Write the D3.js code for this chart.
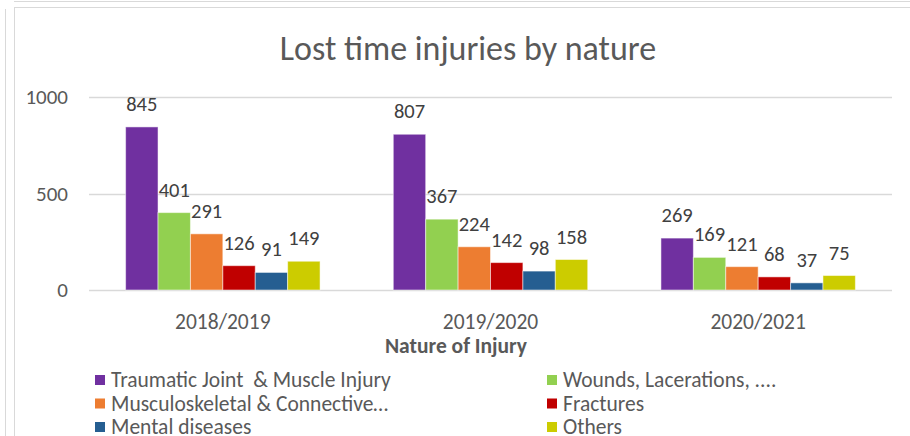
<!DOCTYPE html>
<html lang="en">
<head>
    <meta charset="UTF-8">
    <title>Lost time injuries by nature</title>
    <script src="https://d3js.org/d3.v7.min.js"></script>
    <style>
        body { margin: 0; background: #fff; }
        text { font-family: Calibri, Carlito, "Open Sans", sans-serif; white-space: pre; }
    </style>
</head>
<body>
    <svg width="910" height="436"></svg>
    <script>
        const years = ["2018/2019", "2019/2020", "2020/2021"];
        const seriesNames = [
            "Traumatic Joint  & Muscle Injury",
            "Wounds, Lacerations, ....",
            "Musculoskeletal & Connective…",
            "Fractures",
            "Mental diseases",
            "Others"
        ];
        const seriesColors = ["#7030A0", "#92D050", "#ED7D31", "#C00000", "#255E91", "#CCCC00"];
        const values = [
            [845, 401, 291, 126, 91, 149],
            [807, 367, 224, 142, 98, 158],
            [269, 169, 121, 68, 37, 75]
        ];
        const yTicks = [0, 500, 1000];

        const svg = d3.select("svg");

        // frame lines like the pasted chart box
        svg.append("line").attr("x1", 5.5).attr("x2", 5.5).attr("y1", 9).attr("y2", 436).attr("stroke", "#d9d9d9");
        svg.append("line").attr("x1", 14.5).attr("x2", 14.5).attr("y1", 7).attr("y2", 436).attr("stroke", "#d9d9d9");
        svg.append("line").attr("x1", 14).attr("x2", 910).attr("y1", 1.5).attr("y2", 1.5).attr("stroke", "#d9d9d9");
        svg.append("line").attr("x1", 14).attr("x2", 910).attr("y1", 7.5).attr("y2", 7.5).attr("stroke", "#d9d9d9");

        const x0 = d3.scaleBand().domain(years).range([89, 892]);
        const x1 = d3.scaleBand().domain(d3.range(seriesNames.length))
            .range([0, x0.bandwidth()]).paddingOuter(1.13);
        const y = d3.scaleLinear().domain([0, 1000]).range([290, 97]);

        // title
        svg.append("text")
            .attr("x", 468).attr("y", 60)
            .attr("text-anchor", "middle")
            .style("font-size", "34px")
            .attr("fill", "#595959")
            .text("Lost time injuries by nature");

        // gridlines + y labels
        svg.selectAll("line.grid")
            .data(yTicks)
            .enter().append("line")
            .attr("class", "grid")
            .attr("x1", 89).attr("x2", 892)
            .attr("y1", d => Math.round(y(d)) + 0.5)
            .attr("y2", d => Math.round(y(d)) + 0.5)
            .attr("stroke", "#d9d9d9")
            .attr("stroke-width", 1.5);

        svg.selectAll("text.ytick")
            .data(yTicks)
            .enter().append("text")
            .attr("class", "ytick")
            .attr("x", 68)
            .attr("y", d => y(d) + 7)
            .attr("text-anchor", "end")
            .style("font-size", "21px")
            .attr("fill", "#595959")
            .text(d => d);

        // bars
        const groups = svg.selectAll("g.year")
            .data(years)
            .enter().append("g")
            .attr("class", "year")
            .attr("transform", d => `translate(${x0(d)},0)`);

        groups.selectAll("rect")
            .data((d, i) => values[i].map((v, j) => ({ v, j })))
            .enter().append("rect")
            .attr("x", d => x1(d.j))
            .attr("y", d => y(d.v))
            .attr("width", x1.bandwidth())
            .attr("height", d => y(0) - y(d.v))
            .attr("fill", d => seriesColors[d.j])
            .attr("stroke", "#ffffff")
            .attr("stroke-opacity", 0.5)
            .attr("stroke-width", 1);

        groups.selectAll("text.val")
            .data((d, i) => values[i].map((v, j) => ({ v, j })))
            .enter().append("text")
            .attr("class", "val")
            .attr("x", d => x1(d.j) + x1.bandwidth() / 2)
            .attr("y", d => y(d.v) - 16)
            .attr("text-anchor", "middle")
            .style("font-size", "20.5px")
            .attr("fill", "#404040")
            .text(d => d.v);

        // x labels
        svg.selectAll("text.xlab")
            .data(years)
            .enter().append("text")
            .attr("class", "xlab")
            .attr("x", d => x0(d) + x0.bandwidth() / 2)
            .attr("y", 329)
            .attr("text-anchor", "middle")
            .style("font-size", "21.5px")
            .attr("fill", "#595959")
            .text(d => d);

        svg.append("text")
            .attr("x", 456).attr("y", 353)
            .attr("text-anchor", "middle")
            .style("font-size", "21.5px")
            .style("font-weight", "bold")
            .attr("fill", "#595959")
            .text("Nature of Injury");

        // legend
        const legend = svg.selectAll("g.legend")
            .data(seriesNames)
            .enter().append("g")
            .attr("class", "legend")
            .attr("transform", (d, i) => `translate(${i % 2 === 0 ? 95 : 547},${375 + Math.floor(i / 2) * 23.5})`);

        legend.append("rect")
            .attr("width", 10).attr("height", 10)
            .attr("fill", (d, i) => seriesColors[i]);

        legend.append("text")
            .attr("x", 16).attr("y", 12)
            .style("font-size", "21.5px")
            .attr("fill", "#595959")
            .text(d => d);
    </script>
</body>
</html>
